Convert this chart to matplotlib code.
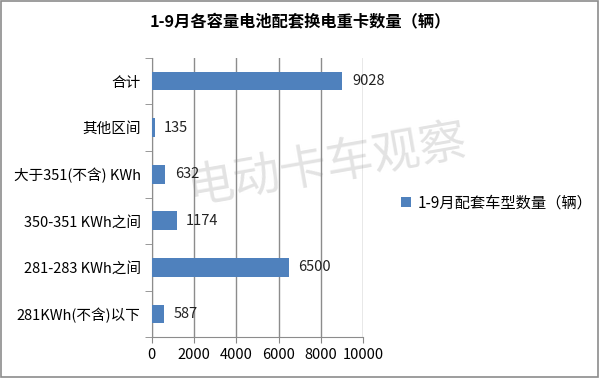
import matplotlib.pyplot as plt

plt.rcParams['font.family'] = ['Noto Sans CJK SC', 'DejaVu Sans']

categories = ["281KWh(不含)以下", "281-283 KWh之间", "350-351 KWh之间",
              "大于351(不含) KWh", "其他区间", "合计"]
values = [587, 6500, 1174, 632, 135, 9028]
series_name = "1-9月配套车型数量（辆）"

fig = plt.figure(figsize=(6, 3.78), dpi=100)
ax = fig.add_axes([0.253, 0.108, 0.352, 0.739])
ax.patch.set_alpha(0)

bars = ax.barh(categories, values, height=0.4, color="#4F81BD", label=series_name, zorder=3)
for i, v in enumerate(values):
    ax.text(v + 450, i, str(v), va="center", ha="left", fontsize=10.5, color="#222222")

ax.set_xlim(0, 10000)
ax.set_ylim(-0.5, len(categories) - 0.5)
ax.set_xticks([0, 2000, 4000, 6000, 8000, 10000])
ax.set_yticks([i - 0.5 for i in range(len(categories) + 1)], minor=True)
ax.tick_params(axis="y", which="major", length=0, labelsize=10.5, pad=8)
ax.tick_params(axis="y", which="minor", length=5, color="#888888")
ax.tick_params(axis="x", length=4, color="#888888", labelsize=10.5)
ax.grid(axis="x", color="#8c8c8c", linewidth=1, zorder=0)
for s in ["top", "right"]:
    ax.spines[s].set_visible(False)
for s in ["left", "bottom"]:
    ax.spines[s].set_color("#8c8c8c")

fig.text(0.5, 0.94, "1-9月各容量电池配套换电重卡数量（辆）", ha="center", va="center",
         fontsize=11.7, fontweight="bold")

fig.legend(handles=[bars], labels=[series_name], loc="center left",
           bbox_to_anchor=(0.645, 0.463), frameon=False, fontsize=11,
           handlelength=0.7, handleheight=0.7, handletextpad=0.4)

fig.text(0.545, 0.563, "电动卡车观察", ha="center", va="center", fontsize=34,
         rotation=10, color="#e3e3e3", zorder=-1)

fig.patches.append(plt.Rectangle((0.002, 0.003), 0.995, 0.994, transform=fig.transFigure,
                                 fill=False, edgecolor="#8c8c8c", linewidth=1.2))

fig.savefig("out.png", dpi=100)
